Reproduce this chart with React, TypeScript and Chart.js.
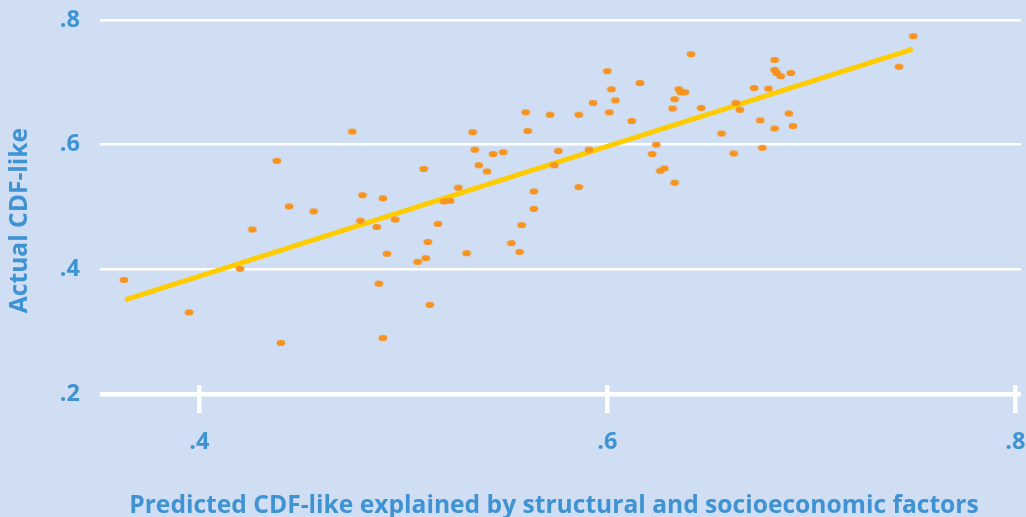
import React, { useEffect, useRef } from 'react';
import { Chart, registerables } from 'chart.js';

Chart.register(...registerables);

// ---- data ----
const predicted = [
  0.363, 0.395, 0.420, 0.426, 0.438, 0.440, 0.444, 0.456, 0.475, 0.480,
  0.490, 0.479, 0.487, 0.488, 0.490, 0.492, 0.496, 0.507, 0.510, 0.511,
  0.512, 0.513, 0.517, 0.520, 0.523, 0.527, 0.531, 0.534, 0.535, 0.537,
  0.541, 0.544, 0.549, 0.553, 0.557, 0.558, 0.560, 0.561, 0.564, 0.564,
  0.572, 0.574, 0.576, 0.586, 0.586, 0.591, 0.593, 0.600, 0.601, 0.602,
  0.604, 0.612, 0.616, 0.622, 0.624, 0.626, 0.628, 0.632, 0.633, 0.633,
  0.635, 0.636, 0.638, 0.641, 0.646, 0.656, 0.662, 0.663, 0.665, 0.672,
  0.675, 0.676, 0.679, 0.682, 0.682, 0.683, 0.685, 0.689, 0.690, 0.691,
  0.682, 0.743, 0.750,
];
const actual = [
  0.383, 0.331, 0.401, 0.464, 0.574, 0.282, 0.501, 0.493, 0.621, 0.519,
  0.514, 0.478, 0.468, 0.377, 0.290, 0.425, 0.480, 0.412, 0.561, 0.418,
  0.444, 0.343, 0.473, 0.509, 0.510, 0.531, 0.426, 0.620, 0.592, 0.567,
  0.557, 0.585, 0.588, 0.442, 0.428, 0.471, 0.652, 0.622, 0.525, 0.497,
  0.648, 0.567, 0.590, 0.532, 0.648, 0.592, 0.667, 0.718, 0.652, 0.689,
  0.671, 0.638, 0.699, 0.585, 0.600, 0.558, 0.562, 0.658, 0.673, 0.539,
  0.689, 0.684, 0.684, 0.745, 0.659, 0.618, 0.586, 0.667, 0.656, 0.691,
  0.639, 0.595, 0.690, 0.736, 0.720, 0.715, 0.710, 0.650, 0.715, 0.630,
  0.626, 0.725, 0.774,
];
const fitX = [0.3636, 0.7497];
const fitY = [0.351, 0.7534];
const xTicks = [0.4, 0.6, 0.8];
const yTicks = [0.2, 0.4, 0.6, 0.8];
const xTitle = 'Predicted CDF-like explained by structural and socioeconomic factors';
const yTitle = 'Actual CDF-like';

// ---- styles ----
const BG = '#cfdef3';
const TEXT = '#3f93d3';
const DOT = '#f7931e';
const LINE = '#ffcc00';
const FONT = '"Open Sans"';
// x scale: value 0.4 sits at 199.3px, 2040px per unit
const X_ANCHOR_PX = 199.3;
const X_PX_PER_UNIT = 2040;

const fmt = (v: number) => v.toFixed(1).replace(/^0/, '');

export default function App() {
  const ref = useRef<HTMLCanvasElement>(null);

  useEffect(() => {
    if (!ref.current) return;
    const dot = document.createElement('canvas');
    dot.width = 10;
    dot.height = 8;
    const g = dot.getContext('2d')!;
    g.fillStyle = DOT;
    g.beginPath();
    g.ellipse(5, 4, 4.4, 3.1, 0, 0, Math.PI * 2);
    g.fill();

    const decor = {
      id: 'decor',
      afterLayout(chart: any) {
        const x = chart.scales.x;
        const { left, right } = chart.chartArea;
        x.options.min = 0.4 - (X_ANCHOR_PX - left) / X_PX_PER_UNIT;
        x.options.max = 0.4 + (right - X_ANCHOR_PX) / X_PX_PER_UNIT;
        x.min = x.options.min;
        x.max = x.options.max;
        x.configure();
        x._labelItems = null;
      },
      beforeDraw(chart: any) {
        const { ctx, width, height } = chart;
        ctx.save();
        ctx.fillStyle = BG;
        ctx.fillRect(0, 0, width, height);
        ctx.restore();
      },
      afterDraw(chart: any) {
        const { ctx, chartArea } = chart;
        const x = chart.scales.x;
        ctx.save();
        ctx.strokeStyle = '#ffffff';
        ctx.lineWidth = 4.5;
        xTicks.forEach((v) => {
          const px = x.getPixelForValue(v);
          ctx.beginPath();
          ctx.moveTo(px, chartArea.bottom - 9);
          ctx.lineTo(px, chartArea.bottom + 19);
          ctx.stroke();
        });
        ctx.fillStyle = TEXT;
        ctx.font = `bold 24.6px ${FONT}`;
        ctx.textAlign = 'center';
        ctx.textBaseline = 'alphabetic';
        ctx.fillText(xTitle, chartArea.left + 454, 513);
        ctx.translate(27, 220.5);
        ctx.rotate(-Math.PI / 2);
        ctx.fillText(yTitle, 0, 0);
        ctx.restore();
      },
    };

    const chart = new Chart(ref.current, {
      type: 'scatter',
      data: {
        datasets: [
          {
            data: predicted.map((p, i) => ({ x: p, y: actual[i] })),
            pointStyle: dot as any,
            pointRadius: 4,
            pointHoverRadius: 4,
            order: 0,
          },
          {
            type: 'line',
            data: fitX.map((p, i) => ({ x: p, y: fitY[i] })),
            borderColor: LINE,
            borderWidth: 5,
            pointRadius: 0,
            showLine: true,
            fill: false,
            order: 1,
          } as any,
        ],
      },
      options: {
        responsive: false,
        animation: false,
        events: [],
        layout: { padding: { top: 20, left: 0, right: 0, bottom: 0 } },
        plugins: { legend: { display: false }, tooltip: { enabled: false } },
        scales: {
          x: {
            type: 'linear',
            min: 0.3515,
            max: 0.8052,
            afterBuildTicks: (s: any) => {
              s.ticks = xTicks.map((v) => ({ value: v }));
            },
            afterFit: (s: any) => {
              s.height = 123;
              s.paddingLeft = 0;
              s.paddingRight = 0;
            },
            grid: { display: false, drawTicks: false },
            border: { display: false },
            ticks: {
              padding: 34,
              color: TEXT,
              font: { family: FONT, size: 23.5, weight: 'bold' },
              callback: (v: any) => fmt(Number(v)),
              maxRotation: 0,
            },
          },
          y: {
            type: 'linear',
            min: 0.2,
            max: 0.8,
            afterBuildTicks: (s: any) => {
              s.ticks = yTicks.map((v) => ({ value: v }));
            },
            afterFit: (s: any) => {
              s.width = 100;
              s.paddingTop = 0;
              s.paddingBottom = 0;
            },
            grid: {
              color: '#ffffff',
              lineWidth: (c: any) => (c.tick && Math.abs(c.tick.value - 0.2) < 1e-6 ? 4.5 : 2.5),
              drawTicks: false,
            },
            border: { display: false },
            ticks: {
              padding: 20,
              color: TEXT,
              font: { family: FONT, size: 23.5, weight: 'bold' },
              callback: (v: any) => fmt(Number(v)),
            },
          },
        },
      },
      plugins: [decor],
    });
    return () => chart.destroy();
  }, []);

  return (
    <div style={{ position: 'fixed', left: 0, top: 0, width: 1026, height: 517, background: BG }}>
      <canvas ref={ref} width={1026} height={517} style={{ display: 'block' }} />
    </div>
  );
}
